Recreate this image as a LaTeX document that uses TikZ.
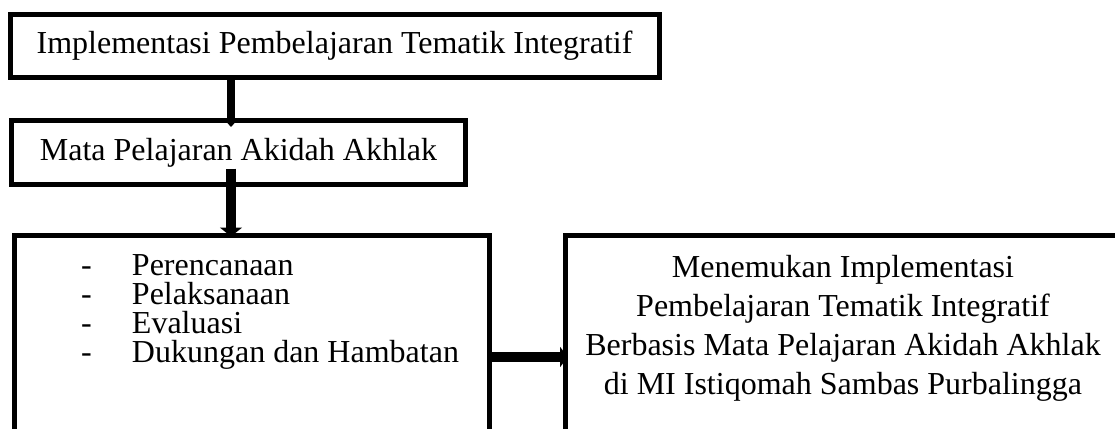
\documentclass[tikz,border=0pt]{standalone}
\usepackage{fontspec}
\setmainfont{Liberation Serif}
\usetikzlibrary{arrows.meta}
\begin{document}
\begin{tikzpicture}[x=1pt,y=-1pt,
  box/.style={draw=black,line width=5pt,inner sep=0pt,outer sep=0pt},
  txt/.style={inner sep=0pt,outer sep=0pt,font=\fontsize{32pt}{39pt}\selectfont},
  listitem/.style={txt,anchor=base west},
  bigarrow/.style={line width=10pt,-{Triangle[length=9pt,width=22pt]}},
  smallarrow/.style={line width=7.5pt,-{Triangle[length=8pt,width=14pt]}}]
\clip (0,0) rectangle (1115,428);
\fill[white] (0,0) rectangle (1115,428);
% boxes
\node[box,minimum width=649pt,minimum height=63pt] (box1) at (334.5,46) {};
\node[txt] (t1) at (box1.center) {Implementasi Pembelajaran Tematik Integratif};
\node[box,minimum width=454pt,minimum height=64pt] (box2) at (238.5,152.5) {};
\node[txt] (t2) at (box2.center) {Mata Pelajaran Akidah Akhlak};
\node[box,minimum width=475pt,minimum height=240pt] (box3) at (251.5,355.5) {};
\node[box,minimum width=570pt,minimum height=240pt] (box4) at (850.5,355) {};
% list
\node[listitem] (l1) at (81,275) {\makebox[51pt][l]{-}Perencanaan};
\node[listitem] (l2) at (81,304) {\makebox[51pt][l]{-}Pelaksanaan};
\node[listitem] (l3) at (81,333) {\makebox[51pt][l]{-}Evaluasi};
\node[listitem] (l4) at (81,362) {\makebox[51pt][l]{-}Dukungan dan Hambatan};
% result text
\node[txt,align=center,anchor=north] (t4) at (843,255)
  {Menemukan Implementasi\\Pembelajaran Tematik Integratif\\Berbasis Mata Pelajaran Akidah Akhlak\\di MI Istiqomah Sambas Purbalingga};
% arrows
\coordinate (ax) at (231,0);
\coordinate (ay) at (0,357);
\draw[smallarrow,shorten >=-6.5pt] (box1.south -| ax) -- (box2.north -| ax);
\draw[bigarrow,shorten <=-16pt,shorten >=-1pt] (box2.south -| ax) -- (box3.north -| ax);
\draw[bigarrow,-{Triangle[length=8pt,width=20pt]},shorten <=2.5pt,shorten >=-2.5pt] (box3.east |- ay) -- (box4.west |- ay);
\end{tikzpicture}
\end{document}
